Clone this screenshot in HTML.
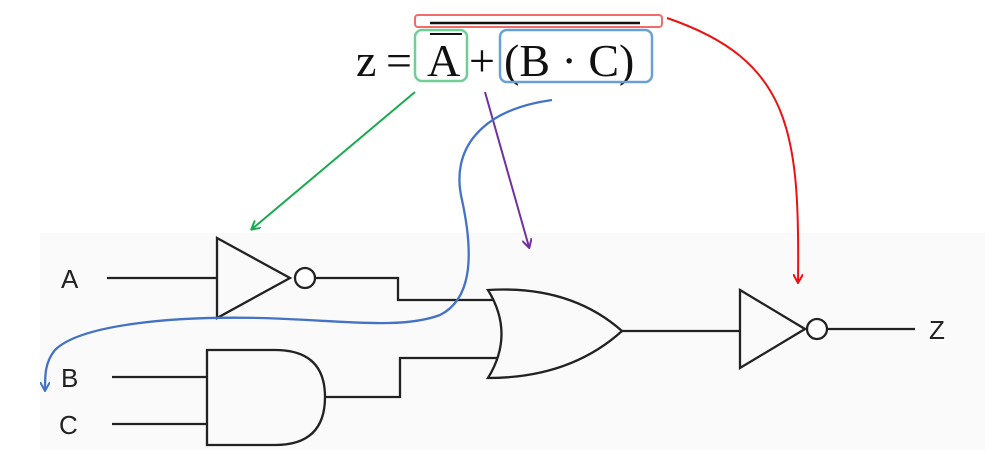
<!DOCTYPE html>
<html><head><style>
body{margin:0;width:1000px;height:450px;background:#fff;overflow:hidden}
</style></head><body>
<svg width="1000" height="450" xmlns="http://www.w3.org/2000/svg">
<defs>
<marker id="g" markerWidth="10" markerHeight="10" refX="8" refY="5" orient="auto" markerUnits="userSpaceOnUse"><path d="M0,0 L9,5 L0,10" fill="none" stroke="#1aaa50" stroke-width="2"/></marker>
<marker id="p" markerWidth="10" markerHeight="10" refX="8" refY="5" orient="auto" markerUnits="userSpaceOnUse"><path d="M0,0 L9,5 L0,10" fill="none" stroke="#7030a0" stroke-width="2"/></marker>
<marker id="r" markerWidth="10" markerHeight="10" refX="8" refY="5" orient="auto" markerUnits="userSpaceOnUse"><path d="M0,0 L9,5 L0,10" fill="none" stroke="#ee1111" stroke-width="2"/></marker>
<marker id="b" markerWidth="10" markerHeight="10" refX="8" refY="5" orient="auto" markerUnits="userSpaceOnUse"><path d="M0,0 L9,5 L0,10" fill="none" stroke="#4472c4" stroke-width="2"/></marker>
</defs>
<rect x="40" y="233" width="945" height="217" fill="#fafafa"/>
<g font-family="Liberation Serif,serif" font-size="46" fill="#111">
<text x="356" y="76">z</text>
<text x="386" y="76">=</text>
<text x="427" y="76">A</text>
<text x="469" y="76">+</text>
<text x="504" y="76">(B · C)</text>
</g>
<line x1="430" y1="34" x2="462" y2="34" stroke="#111" stroke-width="2"/>
<line x1="430" y1="23" x2="640" y2="23" stroke="#111" stroke-width="2.5"/>
<rect x="415" y="15" width="247" height="12" rx="3" fill="none" stroke="#f26b6b" stroke-width="2"/>
<rect x="415" y="30" width="52" height="51" rx="7" fill="none" stroke="#6fcf97" stroke-width="2.5"/>
<rect x="500" y="30" width="152" height="52" rx="7" fill="none" stroke="#6aa0d8" stroke-width="2.5"/>
<g stroke="#222" stroke-width="2.3" fill="none">
<line x1="107" y1="278" x2="217" y2="278"/>
<path d="M217,238 L290,278 L217,318 Z" fill="#fafafa"/>
<circle cx="305" cy="278" r="10" fill="#fff"/>
<path d="M315,278 H398 V300 H496"/>
<path d="M488,290 Q570,285 622,331 Q570,378 488,378 Q515,334 488,290 Z" fill="#fafafa"/>
<line x1="622" y1="331" x2="740" y2="331"/>
<path d="M740,290 L805,329 L740,368 Z" fill="#fafafa"/>
<circle cx="817" cy="329" r="10" fill="#fff"/>
<line x1="827" y1="329" x2="915" y2="329"/>
<path d="M207,350 H275 Q325,350 325,397 Q325,445 275,445 H207 Z" fill="#fafafa"/>
<line x1="112" y1="377" x2="207" y2="377"/>
<line x1="112" y1="424" x2="207" y2="424"/>
<path d="M325,397 H400 V358 H497"/>
</g>
<g font-family="Liberation Sans,sans-serif" font-size="26" fill="#222">
<text x="61" y="288">A</text><text x="61" y="387">B</text><text x="59" y="434">C</text><text x="929" y="339">Z</text>
</g>
<line x1="415" y1="92" x2="252" y2="229" stroke="#1aaa50" stroke-width="2" marker-end="url(#g)"/>
<line x1="485" y1="92" x2="529" y2="247" stroke="#7030a0" stroke-width="2" marker-end="url(#p)"/>
<path d="M667,18 C790,60 800,130 798,282" fill="none" stroke="#ee1111" stroke-width="2" marker-end="url(#r)"/>
<path d="M552,100 C480,110 450,150 462,200 C475,260 470,300 440,315 C400,330 340,320 260,318 C170,316 80,325 55,350 C45,362 45,375 45,390" fill="none" stroke="#4472c4" stroke-width="2.3" marker-end="url(#b)"/>
</svg>
</body></html>
